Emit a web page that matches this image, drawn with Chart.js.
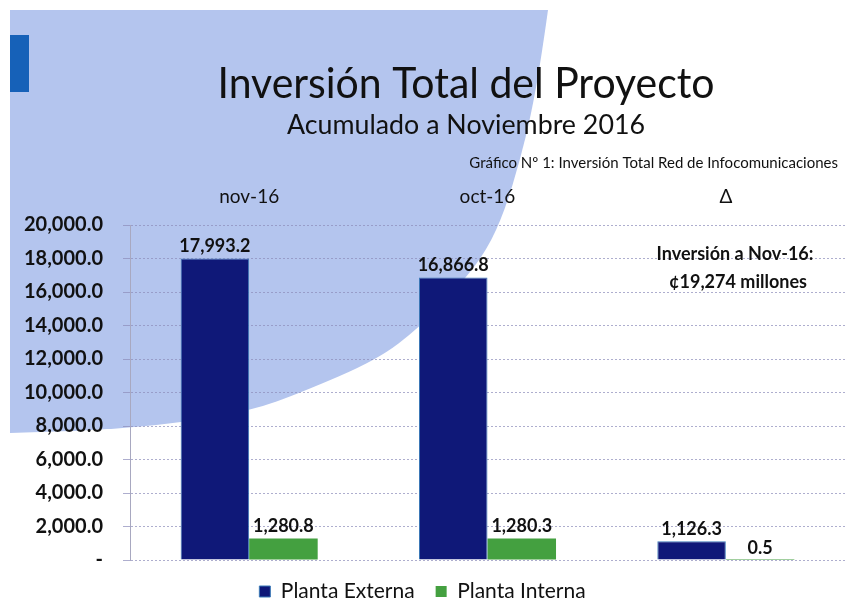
<!DOCTYPE html>
<html><head><meta charset="utf-8">
<script src="https://cdn.jsdelivr.net/npm/chart.js@4.4.0/dist/chart.umd.min.js"></script>
<style>html,body{margin:0;padding:0;background:#fff;}canvas{display:block}</style>
</head><body>
<canvas id="c" width="845" height="602"></canvas>
<script>
const categories = ['nov-16', 'oct-16', 'Δ'];
const plantaExterna = [17993.2, 16866.8, 1126.3];
const plantaInterna = [1280.8, 1280.3, 0.5];
const seriesNames = ['Planta Externa', 'Planta Interna'];
const yTickValues = [0, 2000, 4000, 6000, 8000, 10000, 12000, 14000, 16000, 18000, 20000];
const titleText = 'Inversión Total del Proyecto';
const subtitleText = 'Acumulado a Noviembre 2016';
const captionText = 'Gráfico Nº 1: Inversión Total Red de Infocomunicaciones';
const noteLines = ['Inversión a Nov-16:', '¢19,274 millones'];

const FONT = 'Lato, "Open Sans", sans-serif';
const fmt = v => v.toLocaleString('en-US', {minimumFractionDigits: 1, maximumFractionDigits: 1});

const bgPlugin = {
  id: 'bg',
  beforeDraw(chart) {
    const ctx = chart.ctx;
    ctx.save();
    ctx.fillStyle = '#ffffff';
    ctx.fillRect(0, 0, chart.width, chart.height);
    const pts = [[548,10],[541,60],[531,115],[520,160],[505,210],[487,250],[460,285],[420,327],[377,360],[300,393],[253,410],[180,423],[100,430],[10,433]];
    ctx.fillStyle = '#b4c5ee';
    ctx.beginPath();
    ctx.moveTo(10, 10);
    ctx.lineTo(pts[0][0], pts[0][1]);
    for (let i = 1; i < pts.length - 1; i++) {
      const mx = (pts[i][0] + pts[i+1][0]) / 2, my = (pts[i][1] + pts[i+1][1]) / 2;
      ctx.quadraticCurveTo(pts[i][0], pts[i][1], mx, my);
    }
    ctx.lineTo(pts[pts.length-1][0], pts[pts.length-1][1]);
    ctx.closePath();
    ctx.fill();
    ctx.fillStyle = '#1661b8';
    ctx.fillRect(10, 35, 19, 57);
    ctx.restore();
  }
};

const textPlugin = {
  id: 'texts',
  afterDraw(chart) {
    const ctx = chart.ctx;
    ctx.save();
    ctx.fillStyle = '#111';
    ctx.textBaseline = 'alphabetic';
    ctx.textAlign = 'center';
    ctx.font = '42px ' + FONT;
    ctx.fillText(titleText, 466, 98, 497);
    ctx.font = '27px ' + FONT;
    ctx.fillText(subtitleText, 466, 134, 358);
    ctx.textAlign = 'right';
    ctx.font = '15px ' + FONT;
    ctx.fillText(captionText, 838, 168, 390);
    ctx.textAlign = 'center';
    ctx.font = 'bold 18px ' + FONT;
    ctx.fillText(noteLines[0], 735, 260, 167);
    ctx.fillText(noteLines[1], 738, 288, 153);
    ctx.font = 'bold 18px ' + FONT;
    ctx.textBaseline = 'bottom';
    chart.data.datasets.forEach((ds, i) => {
      chart.getDatasetMeta(i).data.forEach((bar, j) => {
        ctx.fillText(fmt(ds.data[j]), bar.x, bar.y - 3);
      });
    });
    ctx.restore();
  }
};

new Chart(document.getElementById('c'), {
  type: 'bar',
  data: {
    labels: categories,
    datasets: [
      {label: seriesNames[0], data: plantaExterna, backgroundColor: '#0f1878', borderColor: '#3d7ab8', borderWidth: 1, categoryPercentage: 0.575, barPercentage: 1},
      {label: seriesNames[1], data: plantaInterna, backgroundColor: '#44a040', borderColor: '#44a040', borderWidth: 0, categoryPercentage: 0.575, barPercentage: 1}
    ]
  },
  options: {
    responsive: false,
    animation: false,
    devicePixelRatio: 1,
    layout: {padding: {top: 0, right: 0, left: 0, bottom: -10}},
    plugins: {
      legend: {
        position: 'bottom',
        labels: {boxWidth: 11, boxHeight: 11, padding: 21, color: '#111', font: {family: FONT, size: 21}}
      },
      tooltip: {enabled: false}
    },
    scales: {
      x: {
        position: 'top',
        grid: {display: false},
        border: {display: false},
        ticks: {color: '#111', padding: 9, font: {family: FONT, size: 19}},
        afterFit(scale) { scale.height = 225; }
      },
      y: {
        min: 0, max: 20000,
        afterBuildTicks(scale) { scale.ticks = yTickValues.map(v => ({value: v})); },
        ticks: {
          color: '#111', padding: 20,
          font: {family: FONT, size: 20, weight: 'bold'},
          callback: v => v === 0 ? '-' : fmt(v)
        },
        grid: {color: 'rgba(140,140,185,0.7)', lineWidth: 1, tickLength: 7},
        border: {display: true, color: '#a8a8c0', width: 1, dash: [2, 2]},
        afterFit(scale) { scale.width = 130; }
      }
    }
  },
  plugins: [bgPlugin, textPlugin]
});
</script>
</body></html>
